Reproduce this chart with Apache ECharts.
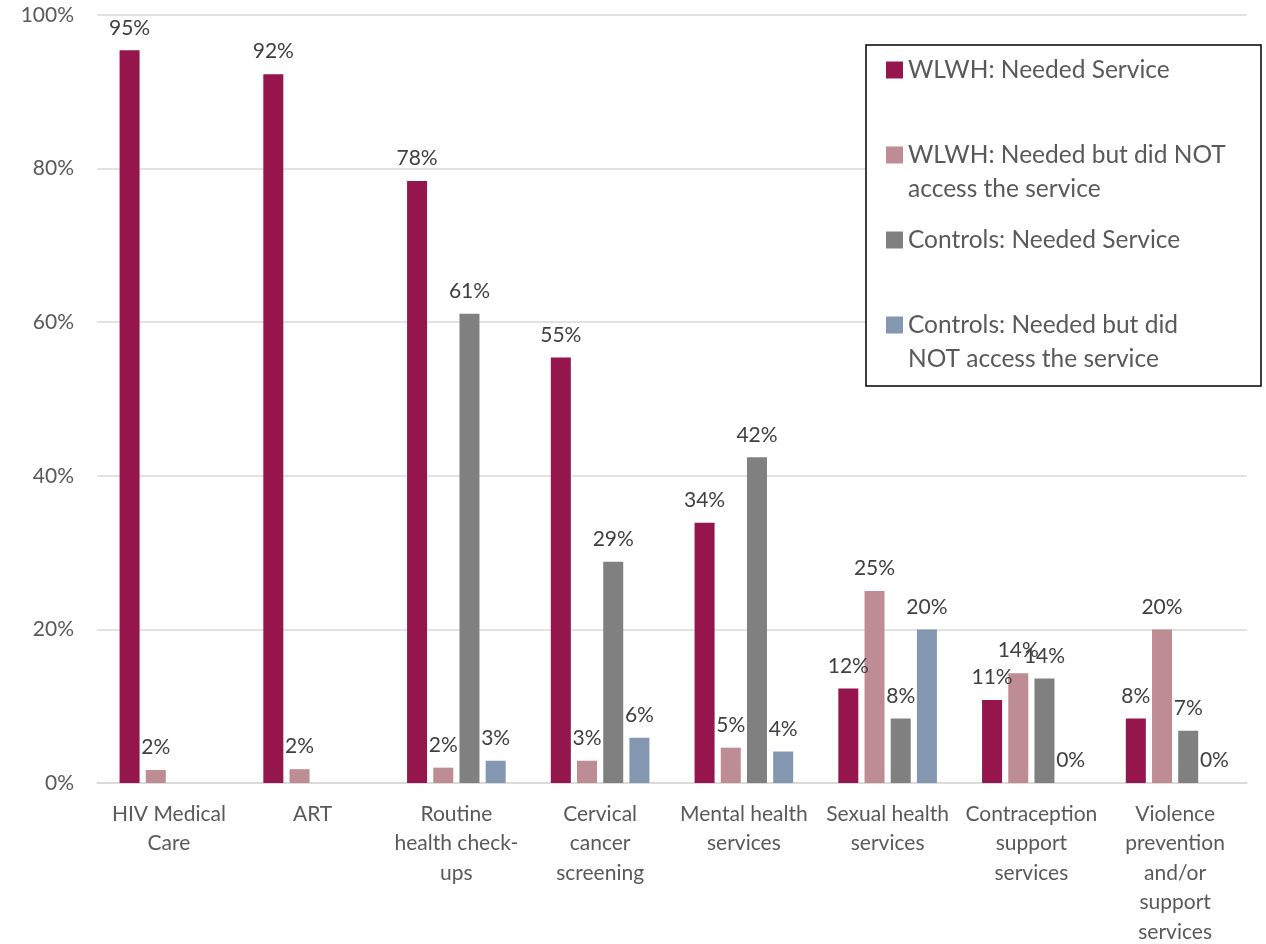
<!DOCTYPE html>
<html>
<head>
<meta charset="utf-8">
<script src="https://cdn.jsdelivr.net/npm/echarts@6/dist/echarts.min.js"></script>
<style>
html,body{margin:0;padding:0;background:#fff;}
#chart{width:1266px;height:944px;}
</style>
</head>
<body>
<div id="chart"></div>
<script>
const categories = [
  'HIV Medical\nCare',
  'ART',
  'Routine\nhealth check-\nups',
  'Cervical\ncancer\nscreening',
  'Mental health\nservices',
  'Sexual health\nservices',
  'Contraception\nsupport\nservices',
  'Violence\nprevention\nand/or\nsupport\nservices'
];
const seriesNames = [
  'WLWH: Needed Service',
  'WLWH: Needed but did NOT access the service',
  'Controls: Needed Service',
  'Controls: Needed but did NOT access the service'
];
const legendText = [
  'WLWH: Needed Service\n',
  'WLWH: Needed but did NOT\naccess the service',
  'Controls: Needed Service\n',
  'Controls: Needed but did\nNOT access the service'
];
const wlwhNeeded      = [95.4, 92.3, 78.4, 55.4, 33.9, 12.3, 10.8, 8.4];
const wlwhNotAccessed = [1.7, 1.8, 2.0, 2.9, 4.6, 25.0, 14.3, 20.0];
const ctrlNeeded      = [null, null, 61.1, 28.8, 42.4, 8.4, 13.6, 6.8];
const ctrlNotAccessed = [null, null, 2.9, 5.9, 4.1, 20.0, 0, 0];
const yTicks = [0, 20, 40, 60, 80, 100];

const colors = ['#95154D', '#BE8C94', '#808080', '#8497B0'];
const FONT = 'Lato, "Open Sans", sans-serif';
const allData = [wlwhNeeded, wlwhNotAccessed, ctrlNeeded, ctrlNotAccessed];

const iconPath = 'path://M0,0L17,0L17,0Z M0,8.5L17,8.5L17,25.5L0,25.5Z M0,68L17,68L17,68Z';

const chart = echarts.init(document.getElementById('chart'), null, {renderer: 'canvas'});
chart.setOption({
  animation: false,
  backgroundColor: '#ffffff',
  textStyle: {fontFamily: FONT},
  grid: {left: 97, right: 19, top: 15, bottom: 161, containLabel: false, outerBoundsMode: 'none'},
  graphic: [{
    type: 'rect', z: 3,
    shape: {x: 866, y: 45, width: 395, height: 341},
    style: {fill: '#ffffff', stroke: '#000000', lineWidth: 1.5}
  }],
  legend: {
    orient: 'vertical',
    left: 886, top: 53,
    padding: 0,
    itemGap: 17,
    itemWidth: 17,
    itemHeight: 68,
    z: 5,
    data: seriesNames.map(n => ({name: n, icon: iconPath})),
    formatter: name => legendText[seriesNames.indexOf(name)],
    textStyle: {fontFamily: FONT, fontSize: 24.5, lineHeight: 34, color: '#595959'}
  },
  xAxis: {
    type: 'category',
    data: categories,
    axisTick: {show: false},
    axisLine: {lineStyle: {color: '#d9d9d9', width: 1.5}},
    axisLabel: {interval: 0, fontFamily: FONT, fontSize: 21, lineHeight: 29.5, color: '#595959', margin: 16}
  },
  yAxis: {
    type: 'value',
    min: yTicks[0], max: yTicks[yTicks.length - 1], interval: 20,
    axisLine: {show: false},
    axisTick: {show: false},
    splitLine: {lineStyle: {color: '#d9d9d9', width: 1.5}},
    axisLabel: {formatter: '{value}%', fontFamily: FONT, fontSize: 21, color: '#595959', margin: 23}
  },
  series: seriesNames.map((n, i) => ({
    name: n,
    type: 'bar',
    data: allData[i],
    barWidth: 20,
    barGap: '31%',
    itemStyle: {color: colors[i]},
    label: {
      show: true,
      position: 'top',
      distance: 12,
      fontFamily: FONT,
      fontSize: 21,
      color: '#404040',
      formatter: p => (p.value == null ? '' : Math.round(p.value) + '%')
    }
  }))
});
</script>
</body>
</html>
